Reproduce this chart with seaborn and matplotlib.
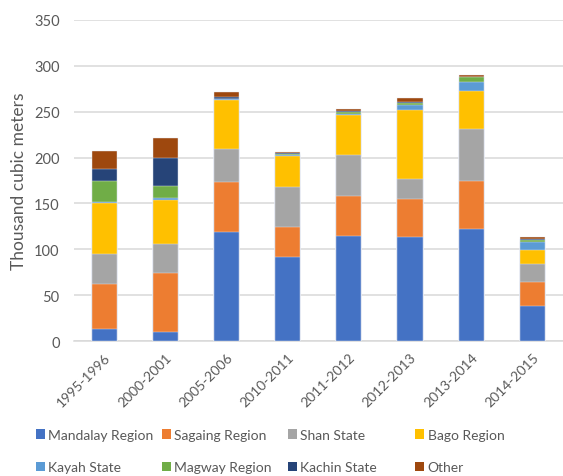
import matplotlib
matplotlib.use("Agg")
import matplotlib.pyplot as plt
from matplotlib.patches import Patch
import numpy as np
import pandas as pd
import seaborn as sns

# Timber production by region (thousand cubic meters)
years = ["1995-1996", "2000-2001", "2005-2006", "2010-2011",
         "2011-2012", "2012-2013", "2013-2014", "2014-2015"]
mandalay = [13, 9.5, 119, 92, 115, 113.5, 122.5, 38.5]
sagaing = [49, 65, 54.5, 32.5, 43.5, 41.5, 52.5, 25.5]
shan = [33, 31, 36, 43.5, 44, 22, 56, 20]
bago = [55, 48, 53.5, 33.5, 43.5, 74.5, 42, 15]
kayah = [2, 2, 0.7, 1.5, 2, 5.5, 9, 9]
magway = [22, 13, 0.7, 1, 1.5, 2, 5.5, 2]
kachin = [13, 31, 1.5, 1, 1, 2, 0.7, 1.7]
other = [20, 21.5, 6, 1.5, 3, 3.5, 1.5, 1.8]

series_names = ["Mandalay Region", "Sagaing Region", "Shan State", "Bago Region",
                "Kayah State", "Magway Region", "Kachin State", "Other"]
series_values = [mandalay, sagaing, shan, bago, kayah, magway, kachin, other]
colors = ["#4472C4", "#ED7D31", "#A5A5A5", "#FFC000",
          "#5B9BD5", "#70AD47", "#264478", "#9E480E"]

sns.set_theme(style="white")
plt.rcParams["font.family"] = ["Lato", "DejaVu Sans"]
text_color = "#595959"
grid_color = "#d9d9d9"

fig = plt.figure(figsize=(5.63, 4.77), dpi=100)
ax = fig.add_axes([73.5 / 563, (477 - 342) / 477, (563 - 73.5) / 563, (342 - 21) / 477])

# Stack by drawing cumulative totals from the top series down
cum = np.cumsum(np.array(series_values, dtype=float), axis=0)
for i in range(len(series_names) - 1, -1, -1):
    df = pd.DataFrame({"year": years, "value": cum[i]})
    sns.barplot(data=df, x="year", y="value", color=colors[i], saturation=1,
                width=0.41, edgecolor="#e4e9f3", linewidth=0.3, ax=ax, zorder=3)

ax.set_ylim(0, 350)
ax.set_xlim(-0.5, len(years) - 0.5)
ax.set_yticks(range(0, 351, 50))
ax.yaxis.grid(True, color=grid_color, linewidth=1.1, zorder=0)
ax.set_axisbelow(True)
for side in ["top", "right", "left"]:
    ax.spines[side].set_visible(False)
ax.spines["bottom"].set_color(grid_color)
ax.spines["bottom"].set_linewidth(1.1)

ax.tick_params(axis="y", length=0, pad=10, labelsize=10.5, labelcolor=text_color)
ax.tick_params(axis="x", length=0, pad=7, labelsize=10, labelcolor=text_color)
plt.setp(ax.get_xticklabels(), rotation=45, ha="right", rotation_mode="anchor")

ax.set_xlabel("")
ax.set_ylabel("Thousand cubic meters", fontsize=12.5, color=text_color)
ax.yaxis.set_label_coords(-(73.5 - 27) / (563 - 73.5), 0.5)

# Legend: four evenly spaced columns of two entries each
col_x = [36, 162, 288, 415]
for c in range(4):
    handles = [Patch(facecolor=colors[c], edgecolor="none"),
               Patch(facecolor=colors[c + 4], edgecolor="none")]
    labels = [series_names[c], series_names[c + 4]]
    fig.legend(handles, labels, loc="upper left",
               bbox_to_anchor=(col_x[c] / 563, 1 - 430 / 477),
               frameon=False, fontsize=10, labelcolor=text_color,
               handlelength=0.65, handleheight=0.65, handletextpad=0.25,
               labelspacing=1.45, borderpad=0, borderaxespad=0)

fig.savefig("out.png", dpi=100)
